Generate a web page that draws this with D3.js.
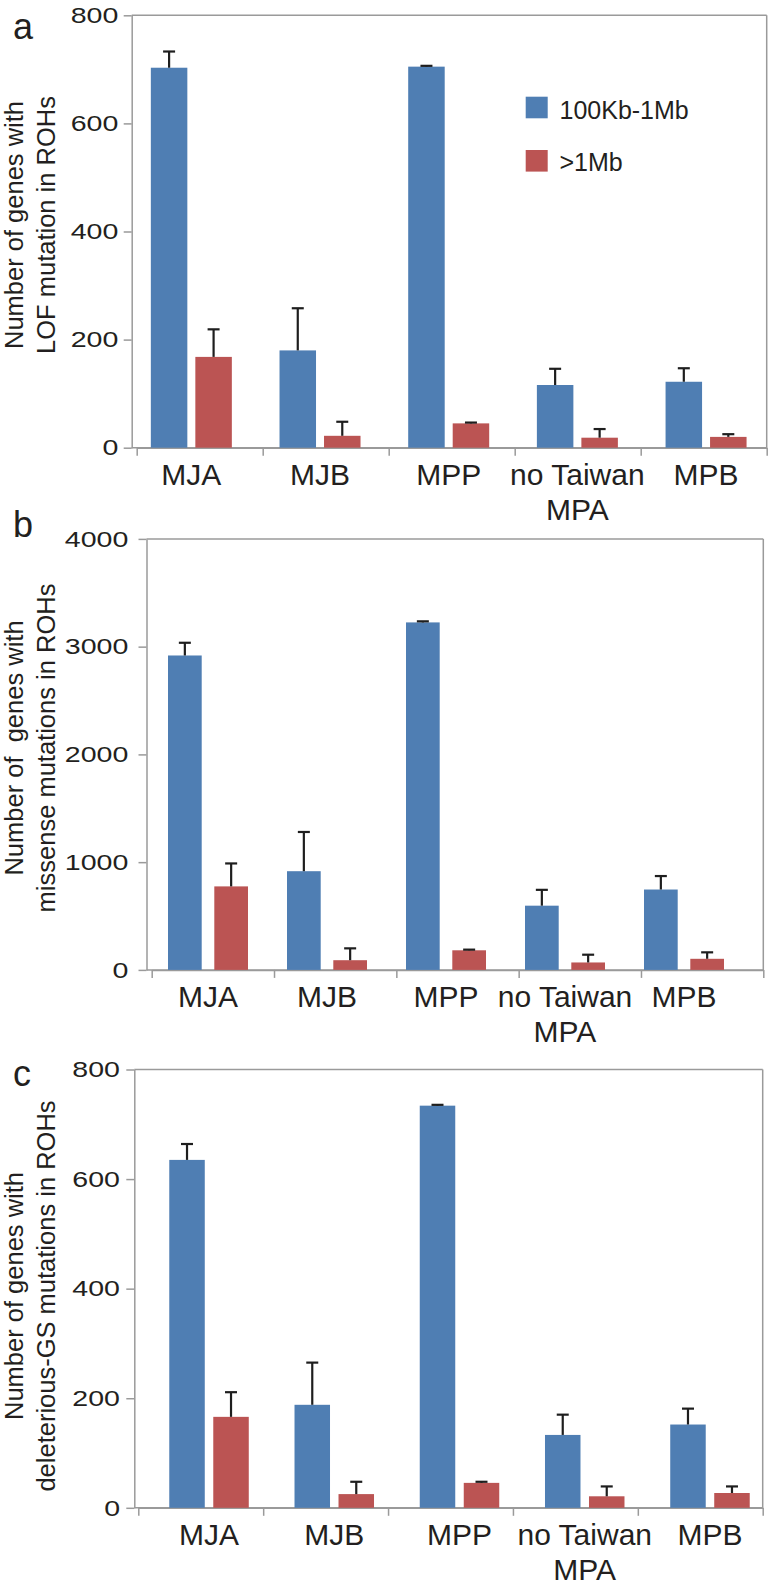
<!DOCTYPE html>
<html>
<head>
<meta charset="utf-8">
<script src="https://cdn.jsdelivr.net/npm/d3@7"></script>
<style>
  html, body { margin: 0; padding: 0; background: #fff; }
  svg { display: block; }
  text { font-family: "Liberation Sans", Arial, Helvetica, sans-serif; fill: #231f20; }
</style>
</head>
<body>
<svg id="chart" width="768" height="1590"></svg>
<script>
// ---------- data ----------
const categories = ["MJA", "MJB", "MPP", "no Taiwan MPA", "MPB"];
const categoryLines = [["MJA"], ["MJB"], ["MPP"], ["no Taiwan", "MPA"], ["MPB"]];
const seriesNames = ["100Kb-1Mb", ">1Mb"];
const seriesColors = ["#4F7EB3", "#BB5453"];

// panel a: LOF
const lofShort = [703, 180, 705, 116, 122];
const lofShortErr = [30, 78, 1.5, 30, 25];
const lofLong = [168, 22, 45, 18.5, 20];
const lofLongErr = [51, 26, 1.5, 16, 5];
const lofTicks = [0, 200, 400, 600, 800];

// panel b: missense
const misShort = [2918, 916, 3225, 596, 746];
const misShortErr = [118, 364, 10, 147, 125];
const misLong = [775, 90, 182, 69, 103];
const misLongErr = [213, 110, 6, 72, 60];
const misTicks = [0, 1000, 2000, 3000, 4000];

// panel c: deleterious-GS
const delShort = [635, 188, 734, 133, 152];
const delShortErr = [29, 77, 1.5, 37, 29];
const delLong = [166, 25, 45.5, 21, 27];
const delLongErr = [45, 22.5, 2, 18, 12];
const delTicks = [0, 200, 400, 600, 800];

// ---------- layout ----------
const panels = [
  { letter: "a", title: ["Number of genes with", "LOF mutation in ROHs"],
    short: lofShort, shortErr: lofShortErr, long: lofLong, longErr: lofLongErr, ticks: lofTicks,
    axisX: 131.7, top: 15.3, zero: 447.7, tickRange: [136.7, 766.7], barRange: [127, 770.4],
    barW: 36.5, gap: 8, labelOff: 13.4, titleY: 225, letterY: 38.5, legend: true },
  { letter: "b", title: ["Number of  genes with", "missense mutations in ROHs"],
    short: misShort, shortErr: misShortErr, long: misLong, longErr: misLongErr, ticks: misTicks,
    axisX: 146.5, top: 538.9, zero: 969.9, tickRange: [151.7, 763.3], barRange: [148.5, 743.5],
    barW: 33.7, gap: 12.6, labelOff: 18.2, titleY: 748, letterY: 536.5, legend: false },
  { letter: "c", title: ["Number of genes with", "deleterious-GS mutations in ROHs"],
    short: delShort, shortErr: delShortErr, long: delLong, longErr: delLongErr, ticks: delTicks,
    axisX: 134.3, top: 1069.5, zero: 1507.8, tickRange: [138.3, 762.7], barRange: [146.4, 772.6],
    barW: 35.5, gap: 8.5, labelOff: 14.3, titleY: 1296, letterY: 1086, legend: false }
];

const svg = d3.select("#chart");
const axisColor = "#9a9a9a";
const tickStretch = 1.27;

panels.forEach(p => {
  const g = svg.append("g");
  const y = d3.scaleLinear().domain([p.ticks[0], p.ticks[p.ticks.length - 1]]).range([p.zero, p.top]);
  const xBars = d3.scaleBand().domain(categories).range(p.barRange).padding(0);
  const xBounds = d3.scaleLinear().domain([0, categories.length]).range(p.tickRange);
  const right = p.tickRange[1];

  // frame: top and right lines
  g.append("line").attr("x1", p.axisX).attr("x2", right).attr("y1", p.top).attr("y2", p.top)
    .attr("stroke", axisColor).attr("stroke-width", 1.5);
  g.append("line").attr("x1", right).attr("x2", right).attr("y1", p.top).attr("y2", p.zero)
    .attr("stroke", axisColor).attr("stroke-width", 1.5);
  // baseline from y axis to first boundary tick
  g.append("line").attr("x1", p.axisX).attr("x2", right).attr("y1", p.zero).attr("y2", p.zero)
    .attr("stroke", axisColor).attr("stroke-width", 1.5);

  // y axis
  const yAxis = g.append("g").attr("transform", `translate(${p.axisX},0)`)
    .call(d3.axisLeft(y).tickValues(p.ticks).tickSize(8).tickSizeOuter(0).tickFormat(d3.format("d")));
  yAxis.selectAll("path, line").attr("stroke", axisColor).attr("stroke-width", 1.5);
  yAxis.selectAll("text")
    .attr("x", -p.labelOff / tickStretch)
    .attr("transform", `scale(${tickStretch},1)`)
    .attr("font-size", 22.5)
    .attr("font-family", "Liberation Sans, Arial, sans-serif")
    .attr("fill", "#231f20");

  // x axis boundary ticks
  const xAxis = g.append("g").attr("transform", `translate(0,${p.zero})`)
    .call(d3.axisBottom(xBounds).tickValues(d3.range(categories.length + 1)).tickSize(8).tickSizeOuter(0).tickFormat(""));
  xAxis.selectAll("path, line").attr("stroke", axisColor).attr("stroke-width", 1.5);

  // bars
  const sets = [
    { vals: p.short, err: p.shortErr, color: seriesColors[0], off: -p.gap / 2 - p.barW },
    { vals: p.long, err: p.longErr, color: seriesColors[1], off: p.gap / 2 }
  ];
  sets.forEach(s => {
    const cx = d => xBars(d) + xBars.bandwidth() / 2;
    g.selectAll(null).data(categories).enter().append("rect")
      .attr("x", d => cx(d) + s.off)
      .attr("width", p.barW)
      .attr("y", (d, i) => y(s.vals[i]))
      .attr("height", (d, i) => y(0) - y(s.vals[i]))
      .attr("fill", s.color);
    // error bars (upper only)
    g.selectAll(null).data(categories).enter().append("line")
      .attr("x1", d => cx(d) + s.off + p.barW / 2).attr("x2", d => cx(d) + s.off + p.barW / 2)
      .attr("y1", (d, i) => y(s.vals[i])).attr("y2", (d, i) => y(s.vals[i] + s.err[i]))
      .attr("stroke", "#1e1e1e").attr("stroke-width", 2.2);
    g.selectAll(null).data(categories).enter().append("line")
      .attr("x1", d => cx(d) + s.off + p.barW / 2 - 6).attr("x2", d => cx(d) + s.off + p.barW / 2 + 6)
      .attr("y1", (d, i) => y(s.vals[i] + s.err[i])).attr("y2", (d, i) => y(s.vals[i] + s.err[i]))
      .attr("stroke", "#1e1e1e").attr("stroke-width", 2.2);
  });

  // category labels
  categories.forEach((c, i) => {
    const t = g.append("text")
      .attr("x", xBars(c) + xBars.bandwidth() / 2)
      .attr("y", p.zero + 36.8)
      .attr("text-anchor", "middle")
      .attr("font-size", 30);
    categoryLines[i].forEach((line, j) => {
      t.append("tspan").attr("x", xBars(c) + xBars.bandwidth() / 2).attr("dy", j === 0 ? 0 : 35.5).text(line);
    });
  });

  // y title (two lines, rotated)
  p.title.forEach((line, j) => {
    g.append("text")
      .attr("transform", `translate(${22.5 + j * 32.3},${p.titleY}) rotate(-90)`)
      .attr("text-anchor", "middle")
      .attr("font-size", 25.5)
      .attr("xml:space", "preserve")
      .style("white-space", "pre")
      .text(line);
  });

  // panel letter
  g.append("text").attr("x", 13).attr("y", p.letterY).attr("font-size", 36).text(p.letter);

  // legend
  if (p.legend) {
    const lg = g.append("g");
    seriesNames.forEach((name, i) => {
      lg.append("rect").attr("x", 525.7).attr("y", 96.7 + i * 53.3).attr("width", 22).attr("height", 21.6)
        .attr("fill", seriesColors[i]);
      lg.append("text").attr("x", 559.5).attr("y", 119.3 + i * 52).attr("font-size", 25).text(name);
    });
  }
});
</script>
</body>
</html>
